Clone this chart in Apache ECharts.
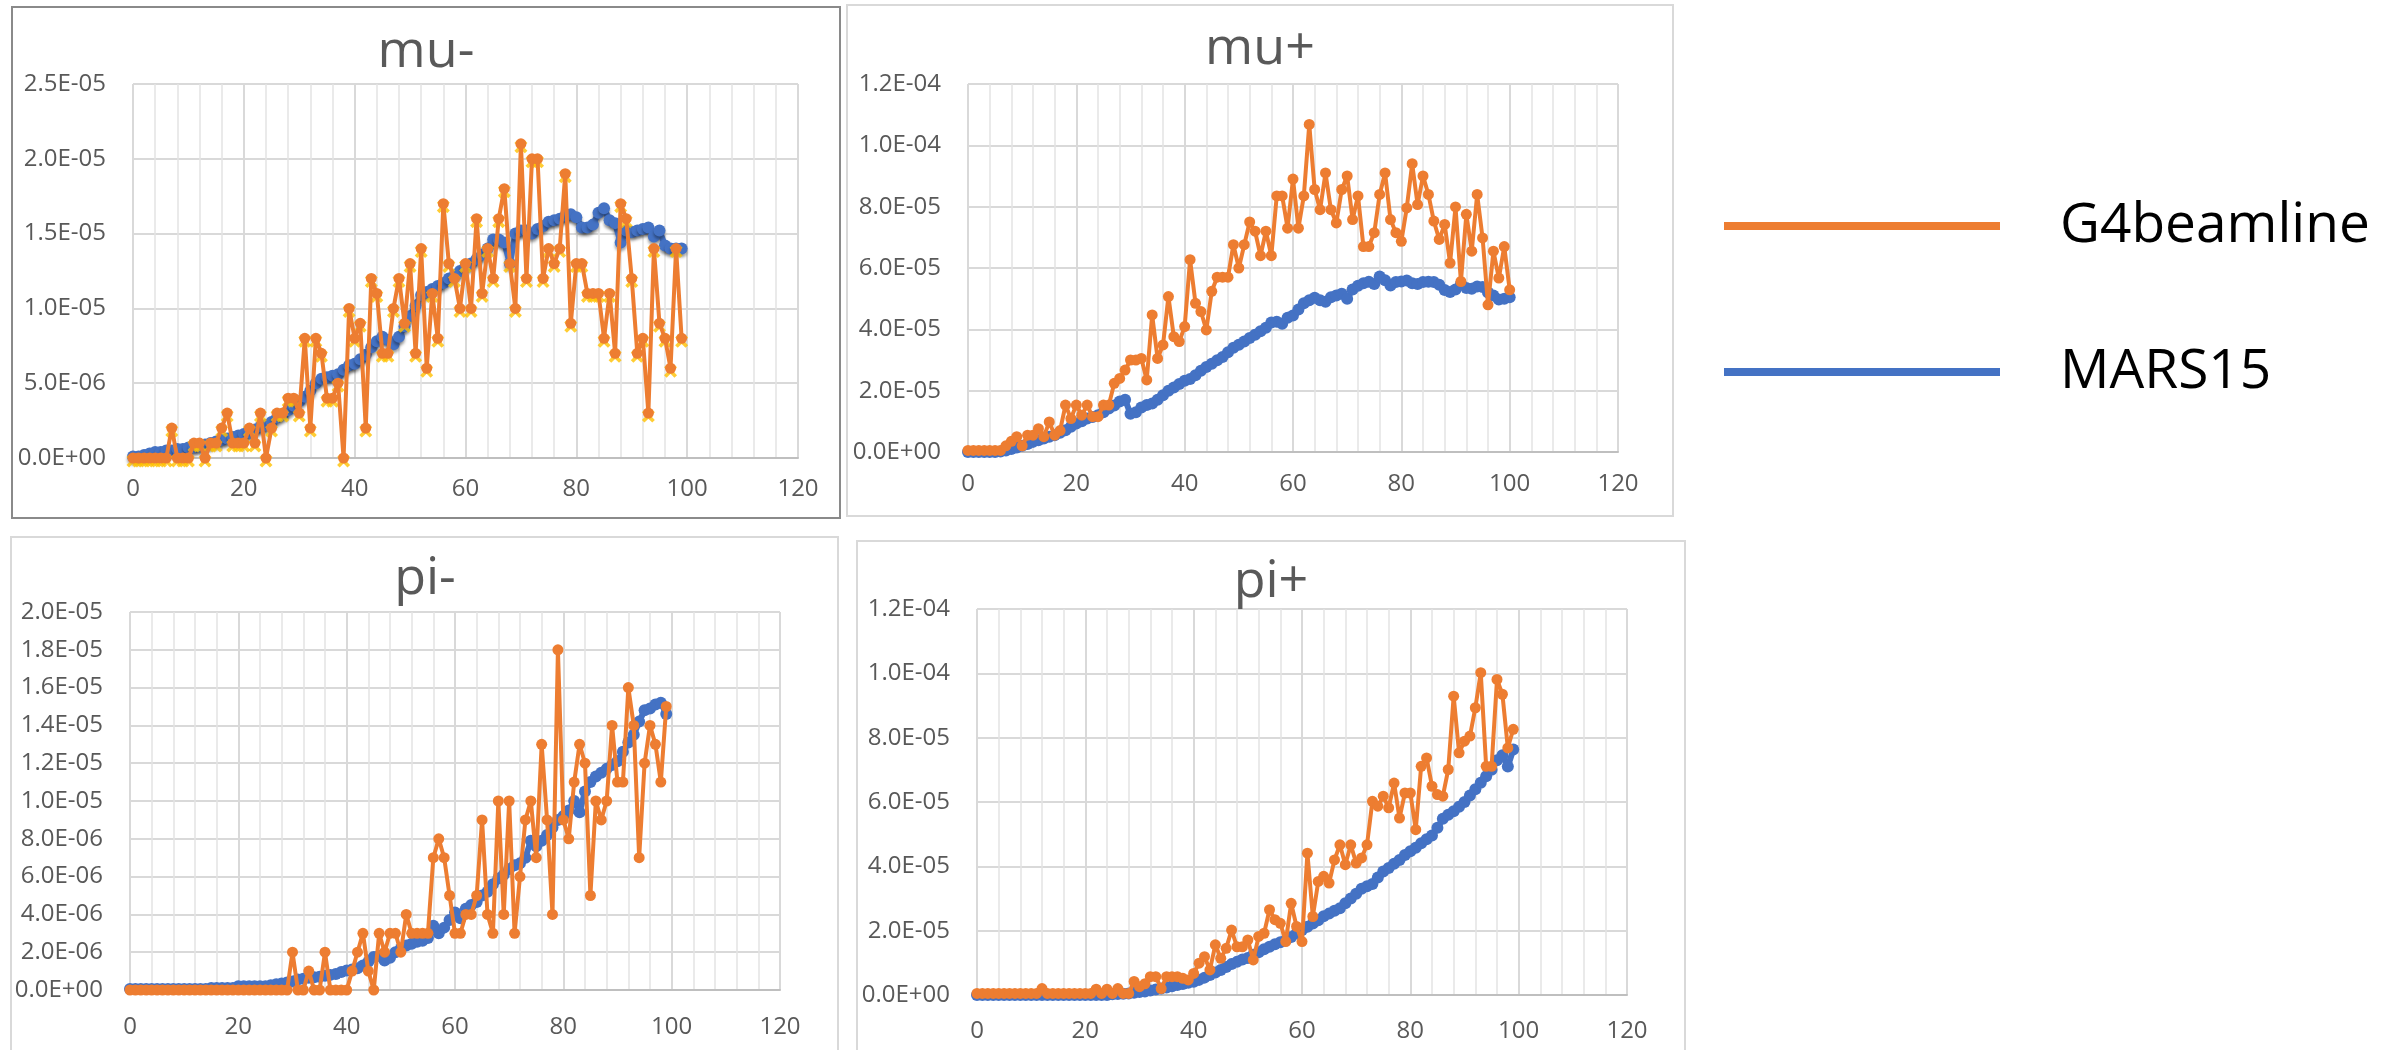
<!DOCTYPE html>
<html>
<head>
<meta charset="utf-8">
<title>mu / pi yields: G4beamline vs MARS15</title>
<script src="https://cdn.jsdelivr.net/npm/echarts@6/dist/echarts.min.js"></script>
<style>
  html, body { margin: 0; padding: 0; background: #ffffff; }
  #chart { width: 2402px; height: 1050px; }
</style>
</head>
<body>
<div id="chart"></div>
<script>
// Bin positions shared by every series
const X = [0,1,2,3,4,5,6,7,8,9,10,11,12,13,14,15,16,17,18,19,20,21,22,23,24,25,26,27,28,29,
  30,31,32,33,34,35,36,37,38,39,40,41,42,43,44,45,46,47,48,49,50,51,52,53,54,55,56,57,58,59,
  60,61,62,63,64,65,66,67,68,69,70,71,72,73,74,75,76,77,78,79,80,81,82,83,84,85,86,87,88,89,
  90,91,92,93,94,95,96,97,98,99,100];

// mu- (values in units of 1e-6)
const MU_MINUS_UNIT = 1e-6;
const muMinusG4 = [0,0,0,0,0,0,0,2,0,0, 0,1,1,0,1,1,2,3,1,1, 1,2,1,3,0,2,3,3,4,4,
  3,8,2,8,7,4,4,5,0,10, 8,9,2,12,11,7,7,10,12,9, 13,7,14,6,11,8,17,13,12,10,
  13,10,16,11,14,12,16,18,13,10, 21,12,20,20,12,14,13,14,19,9, 13,13,11,11,11,8,11,7,17,16,
  12,7,8,3,14,9,8,6,14,8];
const muMinusMars = [0.1,0.1,0.2,0.3,0.4,0.4,0.5,0.5,0.6,0.6, 0.7,0.7,0.8,0.9,1.0,1.1,1.2,1.3,1.4,1.5,
  1.6,1.7,1.9,2.1,2.2,2.4,2.7,2.9,3.2,3.5, 3.8,4.1,4.5,5.0,5.3,5.4,5.5,5.6,5.9,6.2,
  6.3,6.6,6.9,7.4,7.8,8.1,7.9,7.6,8.1,8.8, 9.5,10.2,10.9,11.1,11.3,11.5,11.7,12.0,12.2,12.5,
  12.8,13.0,13.3,13.6,14.0,14.6,14.6,14.4,13.0,15.0, 15.2,15.2,15.0,15.3,15.5,15.8,15.9,16.0,16.2,16.3,
  16.1,15.4,15.4,15.6,16.4,16.7,15.9,15.7,14.4,15.2, 15.1,15.2,15.3,15.4,14.8,15.2,14.2,14.0,14.0,14.0];

// mu+ (values in units of 1e-5)
const MU_PLUS_UNIT = 1e-5;
const muPlusG4 = [0.05,0.05,0.05,0.05,0.05,0.05,0.05,0.2,0.35,0.5, 0.2,0.55,0.55,0.76,0.5,0.98,0.55,0.7,1.53,1.09,
  1.53,1.2,1.53,1.15,1.15,1.53,1.53,2.24,2.4,2.67, 3.0,3.0,3.05,2.35,4.47,3.05,3.49,5.07,3.76,3.6,
  4.09,6.27,4.85,4.58,3.98,5.24,5.7,5.7,5.7,6.76, 6.0,6.76,7.5,7.2,6.4,7.2,6.4,8.35,8.35,7.3,
  8.9,7.3,8.35,10.68,8.56,7.9,9.1,7.9,7.47,8.56, 9.0,7.58,8.35,6.7,6.7,7.15,8.4,9.1,7.58,7.15,
  6.87,7.96,9.4,8.07,9.0,8.4,7.53,6.93,7.42,6.16, 7.99,5.56,7.75,6.55,8.4,6.98,4.8,6.55,5.67,6.7, 5.29];
const muPlusMars = [0,0,0,0,0,0,0.02,0.05,0.1,0.15, 0.2,0.26,0.33,0.38,0.44,0.5,0.55,0.63,0.71,0.82,
  0.93,1.0,1.09,1.14,1.2,1.3,1.42,1.52,1.65,1.7, 1.25,1.3,1.45,1.53,1.58,1.7,1.85,2.0,2.1,2.22,
  2.32,2.38,2.5,2.65,2.77,2.88,2.99,3.1,3.25,3.4, 3.5,3.6,3.72,3.82,3.94,4.05,4.22,4.25,4.18,4.38,
  4.45,4.65,4.85,4.95,5.03,4.95,4.9,5.05,5.1,5.16, 5.0,5.3,5.42,5.5,5.55,5.48,5.72,5.6,5.43,5.54,
  5.56,5.59,5.5,5.48,5.54,5.55,5.54,5.45,5.28,5.22, 5.3,5.48,5.35,5.32,5.4,5.38,5.2,5.1,4.97,5.0, 5.05];

// pi- (values in units of 1e-6)
const PI_MINUS_UNIT = 1e-6;
const piMinusG4 = [0,0,0,0,0,0,0,0,0,0, 0,0,0,0,0,0,0,0,0,0, 0,0,0,0,0,0,0,0,0,0,
  2,0,0,1,0,0,2,0,0,0, 0,1,2,3,1,0,3,2,3,3, 2,4,3,3,3,3,7,8,7,5,
  3,3,4,4,5,9,4,3,10,4, 10,3,6,9,10,7,13,9,4,18, 9,8,11,13,12,5,10,9,10,14,
  11,11,16,14,7,12,14,13,11,15];
const piMinusMars = [0.05,0.05,0.05,0.05,0.05,0.05,0.05,0.05,0.05,0.05, 0.05,0.05,0.05,0.05,0.05,0.1,0.1,0.1,0.1,0.1,
  0.2,0.2,0.2,0.2,0.2,0.2,0.25,0.3,0.35,0.4, 0.45,0.55,0.6,0.65,0.67,0.7,0.76,0.8,0.85,0.95,
  1.03,1.08,1.15,1.3,1.5,1.75,1.8,1.56,1.7,2.0, 2.2,2.35,2.45,2.55,2.6,2.75,3.4,3.0,3.3,3.7,
  4.1,3.8,4.3,4.5,4.65,5.0,5.2,5.6,5.9,6.1, 6.4,6.6,6.7,7.0,7.9,7.6,7.9,8.2,8.6,9.0,
  9.2,9.5,10.0,9.4,10.5,11.0,11.3,11.5,11.7,11.9, 12.1,12.6,13.1,13.5,14.2,14.8,14.9,15.1,15.2,14.6];

// pi+ (values in units of 1e-5)
const PI_PLUS_UNIT = 1e-5;
const piPlusG4 = [0.05,0.05,0.05,0.05,0.05,0.05,0.05,0.05,0.05,0.05, 0.05,0.05,0.2,0.05,0.05,0.05,0.05,0.05,0.05,0.05,
  0.05,0.05,0.18,0.05,0.18,0.05,0.2,0.05,0.05,0.42, 0.26,0.35,0.57,0.57,0.2,0.57,0.57,0.57,0.52,0.47,
  0.67,0.99,1.19,0.78,1.56,1.14,1.45,2.02,1.5,1.5, 1.71,1.09,1.82,1.92,2.65,2.34,2.23,1.66,2.85,2.13,
  1.66,4.41,2.44,3.53,3.69,3.48,4.2,4.67,4.05,4.67, 4.1,4.26,4.67,6.02,5.87,6.18,5.82,6.59,5.5,6.28,
  6.28,5.14,7.11,7.37,6.49,6.23,6.18,7.01,9.29,7.53, 7.89,8.05,8.93,10.02,7.11,7.11,9.81,9.35,7.68,8.26];
const piPlusMars = [0,0,0,0,0,0,0,0,0,0, 0,0,0,0,0,0,0,0,0,0, 0,0,0,0,0,0.02,0.03,0.04,0.05,0.07,
  0.09,0.11,0.14,0.17,0.2,0.23,0.27,0.31,0.34,0.38, 0.41,0.47,0.54,0.62,0.7,0.78,0.87,0.96,1.03,1.1,
  1.15,1.25,1.33,1.42,1.5,1.58,1.64,1.7,1.8,1.92, 2.02,2.12,2.22,2.32,2.45,2.53,2.62,2.7,2.85,3.0,
  3.15,3.3,3.38,3.45,3.65,3.84,3.95,4.08,4.2,4.35, 4.47,4.58,4.72,4.84,4.96,5.2,5.48,5.6,5.71,5.85,
  6.0,6.2,6.4,6.6,6.8,7.0,7.3,7.45,7.1,7.63];

// Panel titles and y-axis ranges
const panelTitles = ['mu-', 'mu+', 'pi-', 'pi+'];
const yMax = [2.5e-5, 1.2e-4, 2.0e-5, 1.2e-4];
const yStep = [5e-6, 2e-5, 2e-6, 2e-5];
const xMax = 120, xStep = 20;

const ORANGE = '#ED7D31', BLUE = '#4472C4', GOLD = '#FFC000';
const LABEL_GREY = '#595959';
const FONT = '"Open Sans", Lato, sans-serif';

function pairs(values, unit) {
  return values.map((v, i) => [X[i], v * unit]);
}

function sciLabel(v) {
  if (v === 0) return '0.0E+00';
  let e = Math.floor(Math.log10(Math.abs(v)));
  let m = Math.round(v / Math.pow(10, e) * 10) / 10;
  if (m >= 10) { m /= 10; e += 1; }
  return m.toFixed(1) + 'E' + (e < 0 ? '-' : '+') + String(Math.abs(e)).padStart(2, '0');
}

// Plot areas (pixels) and panel frames
const grids = [
  { left: 133, top: 84, width: 665, height: 374 },
  { left: 968, top: 84, width: 650, height: 368 },
  { left: 130, top: 612, width: 650, height: 378 },
  { left: 977, top: 609, width: 650, height: 386 }
];
const xLabelMargin = [19, 20, 25, 24];
const titlePos = [
  { left: 426, top: 26 }, { left: 1260, top: 23 },
  { left: 425, top: 553 }, { left: 1271, top: 556 }
];
const frames = [
  { x: 12, y: 7, w: 828, h: 511, color: '#8a8a8a' },
  { x: 847, y: 5, w: 826, h: 511, color: '#d9d9d9' },
  { x: 11, y: 537, w: 827, h: 540, color: '#d9d9d9' },
  { x: 857, y: 541, w: 828, h: 540, color: '#d9d9d9' }
];

const seriesData = [
  { g4: pairs(muMinusG4, MU_MINUS_UNIT), mars: pairs(muMinusMars, MU_MINUS_UNIT) },
  { g4: pairs(muPlusG4, MU_PLUS_UNIT), mars: pairs(muPlusMars, MU_PLUS_UNIT) },
  { g4: pairs(piMinusG4, PI_MINUS_UNIT), mars: pairs(piMinusMars, PI_MINUS_UNIT) },
  { g4: pairs(piPlusG4, PI_PLUS_UNIT), mars: pairs(piPlusMars, PI_PLUS_UNIT) }
];

const xAxes = grids.map((g, i) => ({
  type: 'value', gridIndex: i, min: 0, max: xMax, interval: xStep,
  axisLine: { show: true, onZero: false, lineStyle: { color: '#bfbfbf', width: 2 } },
  axisTick: { show: false },
  minorTick: { show: false, splitNumber: 5 },
  splitLine: { show: true, lineStyle: { color: '#d9d9d9', width: 2 } },
  minorSplitLine: { show: true, lineStyle: { color: '#e3e3e3', width: 1.5 } },
  axisLabel: { color: LABEL_GREY, fontSize: 24, fontFamily: FONT, margin: xLabelMargin[i] }
}));

const yAxes = grids.map((g, i) => ({
  type: 'value', gridIndex: i, min: 0, max: yMax[i], interval: yStep[i],
  axisLine: { show: false }, axisTick: { show: false },
  splitLine: { show: true, lineStyle: { color: '#d9d9d9', width: 2 } },
  axisLabel: { color: LABEL_GREY, fontSize: 24, fontFamily: FONT, margin: 27, formatter: sciLabel }
}));

const series = [];
seriesData.forEach((d, i) => {
  const marsShadow = i === 0
    ? { shadowColor: 'rgba(0,0,0,0.35)', shadowBlur: 3, shadowOffsetY: 3 } : {};
  series.push({
    type: 'line', name: 'MARS15', xAxisIndex: i, yAxisIndex: i, data: d.mars,
    symbol: 'circle', symbolSize: 12,
    lineStyle: Object.assign({ color: BLUE, width: 6 }, marsShadow),
    itemStyle: Object.assign({ color: BLUE }, marsShadow),
    emphasis: { disabled: true }, z: 2
  });
  if (i === 0) {
    // gold cross markers sitting under the G4beamline points of the mu- panel
    series.push({
      type: 'scatter', name: 'G4beamline markers', xAxisIndex: i, yAxisIndex: i, data: d.g4,
      symbol: 'path://M0,2L2,0L5,3L8,0L10,2L7,5L10,8L8,10L5,7L2,10L0,8L3,5Z',
      symbolSize: 13, symbolOffset: [0, 3],
      itemStyle: { color: GOLD }, emphasis: { disabled: true }, z: 3
    });
  }
  series.push({
    type: 'line', name: 'G4beamline', xAxisIndex: i, yAxisIndex: i, data: d.g4,
    symbol: 'circle', symbolSize: 11,
    lineStyle: { color: ORANGE, width: 4 },
    itemStyle: { color: ORANGE },
    emphasis: { disabled: true }, z: 4
  });
});

const option = {
  backgroundColor: '#ffffff',
  animation: false,
  title: panelTitles.map((t, i) => ({
    text: t, left: titlePos[i].left, top: titlePos[i].top, textAlign: 'center', padding: 0,
    textStyle: { color: LABEL_GREY, fontSize: 52, fontWeight: 'normal', fontFamily: FONT }
  })),
  legend: {
    data: ['G4beamline', 'MARS15'],
    orient: 'vertical', left: 1724, top: 196, padding: 0,
    itemWidth: 276, itemHeight: 8, itemGap: 86, icon: 'rect',
    selectedMode: false,
    textStyle: { color: '#000000', fontSize: 55, fontFamily: FONT, lineHeight: 60, padding: [0, 0, 0, 55] }
  },
  grid: grids.map(g => Object.assign({ containLabel: false }, g)),
  xAxis: xAxes,
  yAxis: yAxes,
  graphic: frames.map(f => ({
    type: 'rect', silent: true, z: -10,
    shape: { x: f.x, y: f.y, width: f.w, height: f.h },
    style: { fill: null, stroke: f.color, lineWidth: 2 }
  })),
  series: series
};

const chart = echarts.init(document.getElementById('chart'), null, { renderer: 'canvas' });
chart.setOption(option);
</script>
</body>
</html>
